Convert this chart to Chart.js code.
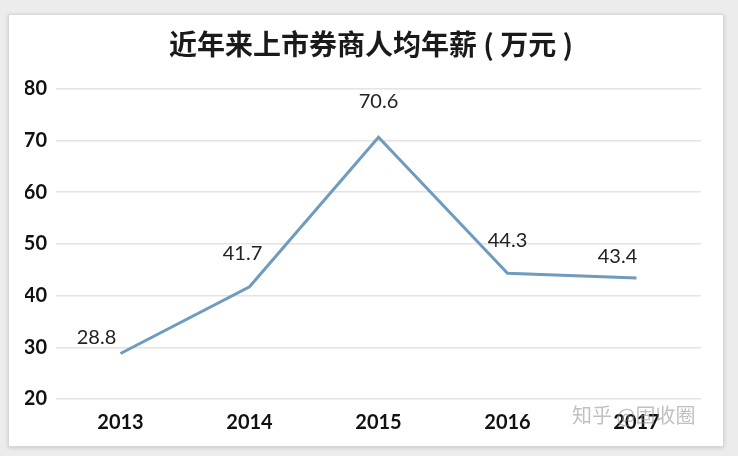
<!DOCTYPE html>
<html>
<head>
<meta charset="utf-8">
<script src="https://cdn.jsdelivr.net/npm/chart.js@4"></script>
<style>
  html, body { margin:0; padding:0; background:#ececec; width:738px; height:456px; overflow:hidden; }
  #box { position:absolute; left:8px; top:14px; width:716px; height:433px; background:#fff;
         border:1px solid #d8d8d8; box-sizing:border-box; box-shadow:0 1px 4px rgba(0,0,0,0.15); }
  #wm { position:absolute; left:572px; top:400px; font:20px "Noto Sans CJK SC"; color:rgba(140,140,140,0.55); }
</style>
</head>
<body>
<div id="box"><canvas id="linha" width="716" height="433"></canvas></div>
<div id="wm">知乎 @固收圈</div>
<script>
// dados
const anos = ['2013', '2014', '2015', '2016', '2017'];
const salarios = [28.8, 41.7, 70.6, 44.3, 43.4];
const rotulos = ['28.8', '41.7', '70.6', '44.3', '43.4'];
const titulo = '近年来上市券商人均年薪 ( 万元 )';

const fonteNum = 'Lato, "Open Sans", sans-serif';

const rotuloPlugin = {
  id: 'rotulos',
  afterDatasetsDraw(chart) {
    const desl = [[-24, -16], [-7, -33], [0, -36], [0, -33], [-19, -21]];
    const ctx = chart.ctx;
    const pts = chart.getDatasetMeta(0).data;
    ctx.save();
    ctx.font = '20px ' + fonteNum;
    ctx.fillStyle = '#222';
    ctx.textAlign = 'center';
    ctx.textBaseline = 'middle';
    pts.forEach((p, i) => {
      ctx.fillText(rotulos[i], p.x + desl[i][0], p.y + desl[i][1]);
    });
    ctx.restore();
  }
};

const ctx = document.getElementById('linha').getContext('2d');
new Chart(ctx, {
  type: 'line',
  data: {
    labels: anos,
    datasets: [{
      data: salarios,
      borderColor: '#6f9bbf',
      borderWidth: 3,
      pointRadius: 0,
      tension: 0,
      fill: false
    }]
  },
  options: {
    responsive: false,
    animation: false,
    layout: { padding: { left: 16, right: 8, top: 0, bottom: 0 } },
    plugins: {
      legend: { display: false },
      tooltip: { enabled: false },
      title: {
        display: true,
        text: titulo,
        color: '#1a1a1a',
        font: { family: '"Noto Sans CJK SC"', size: 28, weight: 'bold' },
        padding: { top: 13, bottom: 27 }
      }
    },
    scales: {
      x: {
        offset: true,
        grid: { display: false },
        border: { display: false },
        ticks: { color: '#111', padding: 4, font: { family: fonteNum, size: 20, weight: 'bold' } },
        afterFit(s) { s.height = 49; }
      },
      y: {
        min: 20, max: 80,
        ticks: { stepSize: 10, color: '#111', padding: 9, font: { family: fonteNum, size: 20, weight: 'bold' } },
        grid: { color: '#e4e4e4', lineWidth: 1.5, drawTicks: false },
        border: { display: false },
        afterFit(s) { s.width = 31; }
      },
      // eixo vazio so para dar margem a direita
      y2: {
        position: 'right',
        min: 20, max: 80,
        ticks: { display: false },
        grid: { display: false, drawTicks: false },
        border: { display: false },
        afterFit(s) { s.width = 16; }
      }
    }
  },
  plugins: [rotuloPlugin]
});
</script>
</body>
</html>
